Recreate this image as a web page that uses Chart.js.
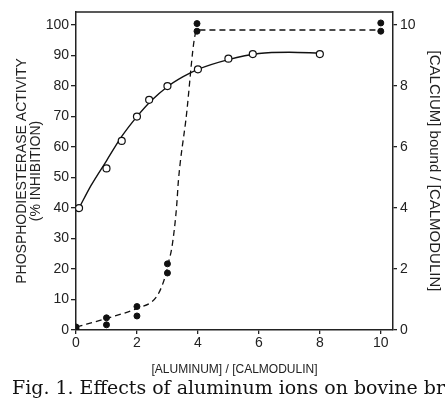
<!DOCTYPE html>
<html>
<head>
<meta charset="utf-8">
<script src="https://cdn.jsdelivr.net/npm/chart.js@4"></script>
<style>
  html, body { margin: 0; padding: 0; background: #fff; }
  #wrap { width: 445px; height: 400px; }
</style>
</head>
<body>
<div id="wrap"><canvas id="grafico"></canvas></div>
<script>
// activity (% inhibition), open circles
const activityX = [0.1, 1, 1.5, 2, 2.4, 3, 4, 5, 5.8, 8];
const activityY = [40, 53, 62, 70, 75.5, 80, 85.5, 89, 90.5, 90.5];

// solid curve drawn through the activity points
const fitX = [0.1, 0.5, 1, 1.5, 2, 2.5, 3, 3.5, 4, 5, 6, 7, 8];
const fitY = [40, 47.5, 55.5, 63.5, 70, 75.5, 79.8, 83, 85.5, 88.7, 90.7, 91.1, 90.8];

// calcium bound / calmodulin, filled circles (right axis)
const calciumX = [0, 0, 1, 1, 2, 2, 3, 3, 3.97, 3.97, 10, 10];
const calciumY = [0.1, 0.05, 0.4, 0.17, 0.77, 0.46, 2.17, 1.87, 10.05, 9.8, 10.07, 9.8];

// dashed curve
const dashX = [0.02, 1, 2, 2.64, 2.89, 3.03, 3.16, 3.3, 3.36, 3.6, 3.97, 10];
const dashY = [0.1, 0.38, 0.71, 1.09, 1.64, 2.19, 2.8, 4.04, 4.9, 6.85, 9.84, 9.84];

function pares(xs, ys) {
    return xs.map((x, i) => ({ x: x, y: ys[i] }));
}

const corEixo = '#222';
const fonteTicks = { family: 'Liberation Sans', size: 14 };

// moldura superior do gráfico
const moldura = {
    id: 'moldura',
    afterDraw(chart) {
        const { ctx, chartArea } = chart;
        ctx.save();
        ctx.strokeStyle = corEixo;
        ctx.lineWidth = 1.3;
        ctx.beginPath();
        ctx.moveTo(chartArea.left, chartArea.top);
        ctx.lineTo(chartArea.right, chartArea.top);
        ctx.stroke();
        ctx.restore();
    }
};

let ctx = document.getElementById('grafico').getContext('2d');

let chart = new Chart(ctx, {
    type: 'scatter',
    data: {
        datasets: [
            {
                label: 'Activity',
                data: pares(activityX, activityY),
                yAxisID: 'y',
                showLine: false,
                pointStyle: 'circle',
                pointRadius: 3.5,
                pointBackgroundColor: '#fff',
                pointBorderColor: '#111',
                pointBorderWidth: 1.2,
                order: 0
            },
            {
                label: 'Activity curve',
                data: pares(fitX, fitY),
                yAxisID: 'y',
                showLine: true,
                borderColor: '#111',
                borderWidth: 1.4,
                pointRadius: 0,
                cubicInterpolationMode: 'monotone',
                order: 2
            },
            {
                label: 'Calcium bound',
                data: pares(calciumX, calciumY),
                yAxisID: 'y2',
                showLine: false,
                pointStyle: 'circle',
                pointRadius: 3,
                pointBackgroundColor: '#111',
                pointBorderColor: '#111',
                pointBorderWidth: 1,
                order: 1
            },
            {
                label: 'Calcium curve',
                data: pares(dashX, dashY),
                yAxisID: 'y2',
                showLine: true,
                borderColor: '#111',
                borderWidth: 1.3,
                borderDash: [6, 4],
                pointRadius: 0,
                cubicInterpolationMode: 'monotone',
                order: 3
            }
        ]
    },
    options: {
        responsive: true,
        maintainAspectRatio: false,
        animation: false,
        layout: { padding: { top: 12, left: 12, right: 0, bottom: 0 } },
        plugins: {
            legend: { display: false },
            tooltip: { enabled: false },
            title: {
                display: true,
                position: 'bottom',
                align: 'start',
                text: 'Fig. 1. Effects of aluminum ions on bovine br',
                color: '#111',
                font: { family: 'DejaVu Serif', size: 19, weight: 'normal', lineHeight: 1.2 },
                padding: 0
            }
        },
        scales: {
            x: {
                type: 'linear',
                min: 0,
                max: 10.4,
                ticks: { stepSize: 2, includeBounds: false, color: corEixo, font: fonteTicks, padding: 1, maxRotation: 0 },
                grid: { drawOnChartArea: false, tickLength: 4, color: corEixo, lineWidth: 1.3 },
                border: { color: corEixo, width: 1.5 },
                title: {
                    display: true,
                    text: '[ALUMINUM] / [CALMODULIN]',
                    color: corEixo,
                    font: { family: 'Liberation Sans', size: 12, lineHeight: 1.2 },
                    padding: { top: 0, bottom: 0 }
                },
                afterFit(s) { s.height = 47.2; }
            },
            y: {
                type: 'linear',
                position: 'left',
                min: 0,
                max: 104.3,
                ticks: { stepSize: 10, includeBounds: false, color: corEixo, font: fonteTicks, padding: 2 },
                grid: { drawOnChartArea: false, tickLength: 5, color: corEixo, lineWidth: 1.3 },
                border: { color: corEixo, width: 1.5 },
                title: {
                    display: true,
                    text: ['PHOSPHODIESTERASE ACTIVITY', '(% INHIBITION)'],
                    color: corEixo,
                    font: { family: 'Liberation Sans', size: 14, lineHeight: 1.0 },
                    padding: { top: 3, bottom: 0 }
                },
                afterFit(s) { s.width = 64; }
            },
            y2: {
                type: 'linear',
                position: 'right',
                min: 0,
                max: 10.43,
                ticks: { stepSize: 2, includeBounds: false, color: corEixo, font: fonteTicks, padding: 3 },
                grid: { drawOnChartArea: false, tickLength: 4, color: corEixo, lineWidth: 1.3 },
                border: { color: corEixo, width: 1.5 },
                title: {
                    display: true,
                    text: '[CALCIUM] bound / [CALMODULIN]',
                    color: corEixo,
                    font: { family: 'Liberation Sans', size: 15, lineHeight: 1.2 },
                    padding: { top: 2, bottom: 0 }
                },
                afterFit(s) { s.width = 52; }
            }
        }
    },
    plugins: [moldura]
});
</script>
</body>
</html>
